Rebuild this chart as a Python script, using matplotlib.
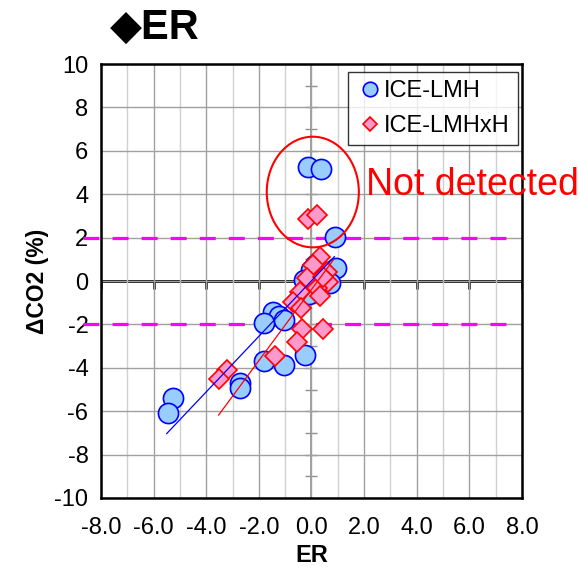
import matplotlib
matplotlib.use('Agg')
import matplotlib.pyplot as plt
from matplotlib.patches import Ellipse
from matplotlib.ticker import MultipleLocator, FormatStrFormatter
import numpy as np

plt.rcParams['font.family'] = ['Liberation Sans', 'DejaVu Sans']
plt.rcParams['axes.unicode_minus'] = False

# ICE-LMH (circles)
lmh_er = [-0.12, 0.35, 0.90, 0.95, 0.15, 0.00, -0.30, 0.70, 0.00, -0.10,
          -1.45, -1.25, -1.80, -1.05, -0.25, -1.80, -1.05, -2.70, -2.72, -5.25, -5.45]
lmh_co2 = [5.24, 5.15, 2.05, 0.60, 0.72, 0.50, 0.05, -0.10, -0.34, -0.60,
           -1.45, -1.60, -1.95, -1.80, -3.40, -3.70, -3.85, -4.70, -4.95, -5.40, -6.10]

# ICE-LMHxH (diamonds)
lmhxh_er = [-0.15, 0.20, 0.32, 0.07, 0.58, -0.18, 0.64, 0.20, 0.32, -0.44,
            -0.69, -0.40, -0.37, 0.45, -0.56, -1.38, -3.20, -3.50, 0.45]
lmhxh_co2 = [2.87, 3.04, 1.12, 0.74, 0.43, 0.12, -0.03, -0.34, -0.70, -0.49,
             -0.95, -1.25, -2.20, -2.20, -2.80, -3.45, -4.10, -4.50, 0.20]

# trend lines: slope, intercept, x range
lmh_fit = (1.28, 0.01, -5.5, 0.87)
lmhxh_fit = (1.64, -0.39, -3.53, 0.83)

thresholds = [2, -2]

fig = plt.figure(figsize=(5.78, 5.67), dpi=100)
ax = fig.add_axes([0.1747, 0.1217, 0.7284, 0.7654])

ax.set_xlim(-8, 8)
ax.set_ylim(-10, 10)
ax.xaxis.set_major_locator(MultipleLocator(2))
ax.xaxis.set_minor_locator(MultipleLocator(1))
ax.yaxis.set_major_locator(MultipleLocator(2))
ax.xaxis.set_major_formatter(FormatStrFormatter('%.1f'))
ax.grid(which='major', color='#a0a0a0', lw=1.0, zorder=0)
ax.grid(which='minor', axis='x', color='#d0d0d0', lw=1.0, zorder=0)
ax.tick_params(which='both', length=0, labelsize=17)
ax.tick_params(axis='x', pad=14)
ax.tick_params(axis='y', pad=9)
for s in ax.spines.values():
    s.set_linewidth(1.8)
    s.set_color('black')

# axes crossing at zero
ax.axvline(0, color='#909090', lw=1.2, zorder=1)
ax.axhline(0, color='black', lw=2.0, zorder=1)
xt = np.arange(-8, 9, 2)
ax.plot(xt, np.zeros_like(xt), ls='none', marker=3, ms=6, mew=1.8, color='black', zorder=1)
yt = np.arange(-9, 10, 1)
ax.plot(np.zeros_like(yt), yt, ls='none', marker='_', ms=8, mew=1, color='#909090', zorder=1)

# threshold lines
for t in thresholds:
    ax.plot([-8.69, 7.43], [t, t], color='#FF00FF', lw=2.3, dashes=(5.0, 4.1),
            clip_on=False, zorder=2)

ax.plot(lmh_er, lmh_co2, ls='none', marker='o', ms=14.5, mfc='#99CCFF', mec='#0000FF',
        mew=1.2, label='ICE-LMH', zorder=3)
ax.plot(lmhxh_er, lmhxh_co2, ls='none', marker='D', ms=10.5, mfc='#FF99CC', mec='#FF0000',
        mew=1.2, label='ICE-LMHxH', zorder=4)

for fit, c in [(lmh_fit, '#0000FF'), (lmhxh_fit, '#FF0000')]:
    k, b, x0, x1 = fit
    xs = np.array([x0, x1])
    ax.plot(xs, k * xs + b, color=c, lw=0.9, zorder=5)

ax.add_patch(Ellipse((0.05, 4.1), 3.5, 5.1, fill=False, edgecolor='#FF0000', lw=1.5, zorder=6))

leg = ax.legend(loc='upper right', bbox_to_anchor=(0.990, 0.982), fontsize=17,
                markerscale=0.72, frameon=True, fancybox=False, borderpad=0.35,
                handletextpad=0.05, handlelength=1.1, labelspacing=0.55, borderaxespad=0)
leg.get_frame().set_edgecolor('black')
leg.get_frame().set_linewidth(1.0)

ax.set_xlabel('ER', fontsize=17, fontweight='bold', labelpad=3)
ax.set_ylabel('ΔCO2 (%)', fontsize=16.5, fontweight='bold', labelpad=4)

fig.text(366 / 578, 1 - 185 / 567, 'Not detected', color='#FF0000', fontsize=27,
         va='center', ha='left')
fig.text(110 / 578, 1 - 28 / 567, '◆ER', fontsize=30, fontweight='bold',
         va='center', ha='left')

fig.savefig('out.png', dpi=100)
